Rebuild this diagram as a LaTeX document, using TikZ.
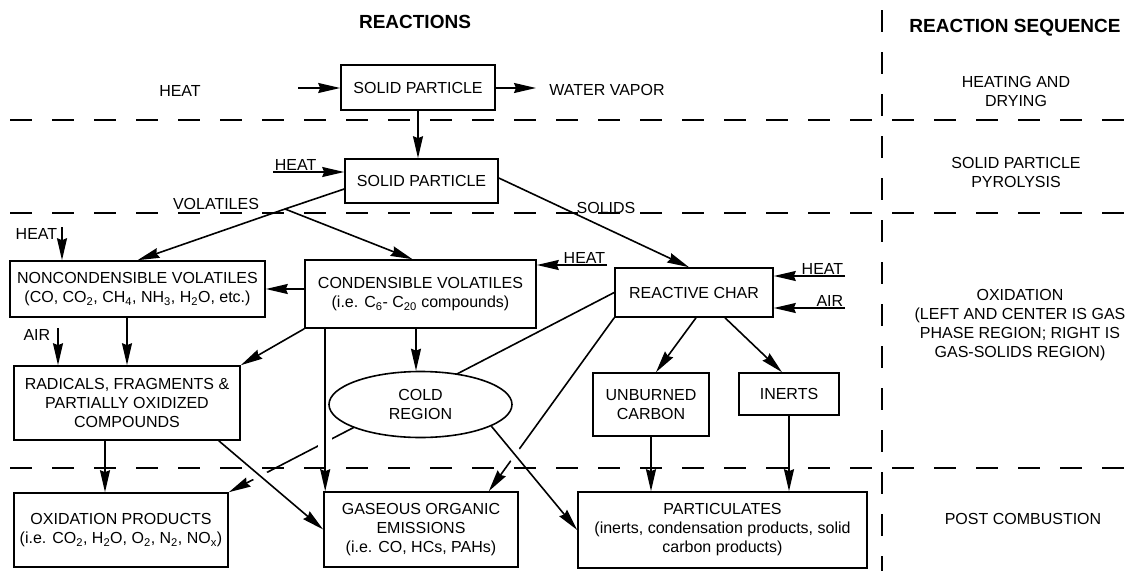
\documentclass[tikz,border=0pt]{standalone}
\usepackage{fontspec}
\setmainfont{Liberation Sans}
\usetikzlibrary{arrows.meta, shapes.geometric, calc}
\pgfdeclarelayer{behind}
\pgfdeclarelayer{cross}
\pgfsetlayers{behind,cross,main}

\begin{document}
\begin{tikzpicture}[x=1pt,y=-1pt,line width=1.6pt,
    every node/.style={font=\fontsize{16}{19}\selectfont},
    every edge/.append style={line width=1.6pt},
    conn/.style={-{Stealth[length=22pt,width=10pt,inset=2pt]},line width=1.6pt},
    box/.style={draw,fill=white,align=center,inner sep=0pt},
    lbl/.style={inner sep=1pt},
    title/.style={font=\fontsize{19}{22}\selectfont\bfseries},
    stage/.style={align=center},
    over/.style={preaction={-,draw=white,line width=14pt}},
    zone/.style={line width=2.6pt,dash pattern=on 22pt off 20pt}]
    \useasboundingbox (0,0) rectangle (1136,571);

    \node[title] (reac) at (415,22) {REACTIONS};
    \node[title] (seq) at (1015,28) {REACTION SEQUENCE};

    \node[box,minimum width=154pt,minimum height=45pt] (sp1) at (418,87.5) {SOLID PARTICLE};
    \node[box,minimum width=153pt,minimum height=44pt] (sp2) at (421.5,181) {SOLID PARTICLE};
    \node[box,minimum width=255pt,minimum height=56pt] (noncond) at (137.5,289) {NONCONDENSIBLE VOLATILES\\(CO, CO\textsubscript{2}, CH\textsubscript{4}, NH\textsubscript{3}, H\textsubscript{2}O, etc.)};
    \node[box,minimum width=231pt,minimum height=68pt] (cond) at (420.5,294) {CONDENSIBLE VOLATILES\\(i.e. C\textsubscript{6}- C\textsubscript{20} compounds)};
    \node[box,minimum width=158pt,minimum height=49pt] (rchar) at (694,292.5) {REACTIVE CHAR};
    \node[box,minimum width=226pt,minimum height=74pt] (radic) at (127,403) {RADICALS, FRAGMENTS \&\\PARTIALLY OXIDIZED\\COMPOUNDS};
    \node[box,ellipse,minimum width=183pt,minimum height=66pt] (cold) at (420.5,404.5) {COLD\\REGION};
    \node[box,minimum width=116pt,minimum height=63pt] (unburn) at (651,404.5) {UNBURNED\\CARBON};
    \node[box,minimum width=100pt,minimum height=42pt] (inerts) at (789,394) {INERTS};
    \node[box,minimum width=214pt,minimum height=74pt] (oxid) at (121,530) {OXIDATION PRODUCTS\\(i.e. CO\textsubscript{2}, H\textsubscript{2}O, O\textsubscript{2}, N\textsubscript{2}, NO\textsubscript{x})};
    \node[box,minimum width=194pt,minimum height=75pt] (gas) at (421,529.5) {GASEOUS ORGANIC\\EMISSIONS\\(i.e. CO, HCs, PAHs)};
    \node[box,minimum width=289pt,minimum height=76pt] (partic) at (722.5,530) {PARTICULATES\\(inerts, condensation products, solid\\carbon products)};

    \node[lbl] (heat1) at (180,91) {HEAT};
    \coordinate (h1) at (298,88);
    \node[lbl] (water) at (607,90) {WATER VAPOR};
    \coordinate (w1) at (536,88);
    \coordinate (h2) at (273,172);
    \node[lbl,anchor=south west] (heat2) at (h2) {HEAT};
    \coordinate (vs) at (285,209);
    \node[lbl] (vol) at (216,204) {VOLATILES};
    \node[lbl] (sol) at (606,208) {SOLIDS};
    \coordinate (h3) at (607,265);
    \node[lbl,anchor=south east] (heat3) at (h3) {HEAT};
    \coordinate (h4) at (845,276);
    \node[lbl,anchor=south east] (heat4) at (h4) {HEAT};
    \coordinate (a2) at (845,308);
    \node[lbl,anchor=south east] (air2) at (a2) {AIR};
    \coordinate (h5) at (62,227);
    \node[lbl,anchor=north east,inner xsep=4pt] (heat5) at (h5) {HEAT};
    \coordinate (a1) at (58,328);
    \node[lbl,anchor=north east,inner xsep=7pt] (air1) at (a1) {AIR};

    \node[stage] (s1) at (1016,91) {HEATING AND\\DRYING};
    \node[stage] (s2) at (1016,172) {SOLID PARTICLE\\PYROLYSIS};
    \node[stage] (s3) at (1020,325) {OXIDATION\\(LEFT AND CENTER IS GAS\\PHASE REGION; RIGHT IS\\GAS-SOLIDS REGION)};
    \node[stage] (s4) at (1023,519) {POST COMBUSTION};

    \coordinate (cc) at ($(cold.north)+(-4.5,0)$);
    \path[conn] (h1) edge (h1 -| sp1.west)
        (sp1.east |- w1) edge (w1)
        (sp1.south) edge (sp1.south |- sp2.north)
        (h2) edge (h2 -| sp2.west)
        (cond.west |- noncond.east) edge (noncond.east)
        (h3) edge (h3 -| cond.east)
        (h4) edge (h4 -| rchar.east)
        (a2) edge (a2 -| rchar.east)
        (h5) edge (h5 |- noncond.north)
        (a1) edge (a1 |- radic.north)
        (radic.north |- noncond.south) edge (radic.north)
        (cond.south west) edge (radic.north east)
        (cc |- cond.south) edge (cc)
        ($(rchar.south)+(2,0)$) edge ($(unburn.north)+(5,0)$)
        ($(rchar.south)+(31,0)$) edge ($(inerts.north)+(-7,0)$)
        (unburn.south) edge (unburn.south |- partic.north)
        (inerts.south) edge (inerts.south |- partic.north);
    \draw[conn] ($(sp2.west)+(0,8)$) -- (vs) -- (noncond.north);
    \draw[conn] (vs) -- ($(cond.north)+(-8,0)$);
    \draw[conn] ($(sp2.east)+(0,-3)$) -- ($(rchar.north)+(-5,0)$);
    \coordinate (ro) at ($(radic.south)+(-22,0)$);
    \draw[conn] (ro) -- (ro |- oxid.north);

    \begin{pgfonlayer}{behind}
        \draw[conn] (rchar.west) -- (oxid.north east);
        \draw[conn] (rchar.south west) -- ($(gas.north east)+(-30,0)$);
    \end{pgfonlayer}
    \begin{pgfonlayer}{cross}
        \coordinate (cg) at ($(cond.south west)+(21,0)$);
        \draw[conn,over] (cg) -- (cg |- gas.north);
        \draw[conn,over] ($(radic.south east)+(-22,0)$) -- (gas.west);
        \draw[conn,over] (cold.-17) -- (partic.west);
    \end{pgfonlayer}

    \draw[zone] (10,120) -- (1136,120);
    \draw[zone] (10,213) -- (1136,213);
    \draw[zone] (10,468) -- (1136,468);
    \draw[zone] (882,10) -- (882,571);
\end{tikzpicture}
\end{document}
